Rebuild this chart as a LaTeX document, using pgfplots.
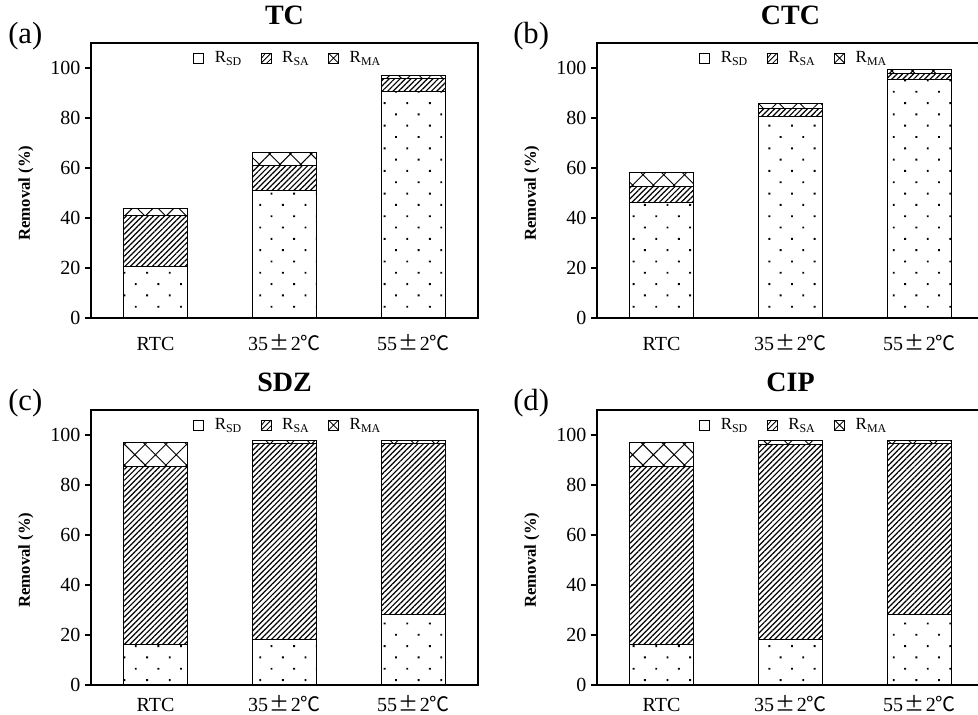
\documentclass[border=0pt]{standalone}
\usepackage{fontspec}
\setmainfont{Liberation Serif}
\newfontfamily\cjk{Noto Sans CJK SC}
\usepackage{pgfplots}
\pgfplotsset{compat=1.18}
\usetikzlibrary{patterns.meta}

\pgfplotsset{
  panel/.style={
    width=290.25pt, height=206.25pt, scale only axis,
    anchor=south west,
    ybar stacked, bar width=0.5,
    xmin=-0.5, xmax=2.5, ymin=0, ymax=110,
    xtick={0,1,2},
    xticklabels={RTC,35{\cjk\kern1pt±\kern1pt}2{\cjk ℃},55{\cjk\kern1pt±\kern1pt}2{\cjk ℃}},
    x tick style={draw=none},
    ytick={0,20,40,60,80,100}, ytick pos=left, tick align=outside, major tick length=4.5pt,
    y tick style={line width=0.8pt, black},
    axis line style={line width=0.9pt},
    tick label style={font=\fontsize{15}{18}\selectfont},
    /pgf/number format/assume math mode=true,
    xticklabel style={anchor=base, inner sep=0pt, yshift=-20.25pt},
    ylabel={\textbf{Removal (\%)}},
    ylabel style={at={(axis description cs:-0.168,0.4545)}, anchor=center, font=\fontsize{12.5}{14}\selectfont},
    title style={at={(axis description cs:0.5,1)}, anchor=base, yshift=7.5pt, font=\bfseries\fontsize{21}{24}\selectfont},
    legend style={draw=none, fill=none, at={(0.51,0.945)}, anchor=center, legend columns=3,
      font=\fontsize{12.75}{15}\selectfont,
      /tikz/every odd column/.append style={column sep=6pt},
      /tikz/every even column/.append style={column sep=12pt}},
    legend cell align=left,
  },
  bottom/.style={xticklabel style={yshift=5pt}},
  sd/.style={draw=black, line width=0.75pt, pattern color=black, pattern={Dots[angle=45,distance=12pt,radius=1pt]},
    legend image code/.code={\draw[black, line width=0.7pt, fill=white] (0pt,-3.75pt) rectangle (7.5pt,3.75pt);}},
  sa/.style={draw=black, line width=0.75pt, pattern color=black, pattern={Lines[angle=45,distance=2.9pt,line width=0.9pt]},
    legend image code/.code={\draw[black, line width=0.7pt, fill=white] (0pt,-3.75pt) rectangle (7.5pt,3.75pt);
      \draw[black, line width=0.6pt] (0pt,-3.75pt) -- (7.5pt,3.75pt) (0pt,-0.5pt) -- (3.25pt,3.75pt) (4.25pt,-3.75pt) -- (7.5pt,-0.5pt);}},
  ma/.style={draw=black, line width=0.75pt, pattern color=black, pattern={Hatch[angle=45,distance=11pt,line width=0.7pt]},
    legend image code/.code={\draw[black, line width=0.7pt, fill=white] (0pt,-3.75pt) rectangle (7.5pt,3.75pt);
      \draw[black, line width=0.55pt] (0pt,-3.75pt) -- (7.5pt,3.75pt) (0pt,3.75pt) -- (7.5pt,-3.75pt);}},
}

\begin{document}
\begin{tikzpicture}
\useasboundingbox (0,0) rectangle (733.5pt,535.5pt);

% (a) TC
\begin{axis}[panel, at={(68.25pt,297pt)}, title={TC}]
\addplot[sd] coordinates {(0,20.4) (1,51.1) (2,90.5)};
\addplot[sa] coordinates {(0,20.5) (1,9.8) (2,5.1)};
\addplot[ma] coordinates {(0,2.7) (1,5.4) (2,1.3)};
\legend{R\textsubscript{SD},R\textsubscript{SA},R\textsubscript{MA}}
\end{axis}

% (b) CTC
\begin{axis}[panel, at={(447.75pt,297pt)}, title={CTC}]
\addplot[sd] coordinates {(0,46.0) (1,80.5) (2,95.2)};
\addplot[sa] coordinates {(0,6.7) (1,3.4) (2,2.7)};
\addplot[ma] coordinates {(0,5.3) (1,2.0) (2,1.3)};
\legend{R\textsubscript{SD},R\textsubscript{SA},R\textsubscript{MA}}
\end{axis}

% (c) SDZ
\begin{axis}[panel, bottom, at={(68.25pt,21.75pt)}, title={SDZ}]
\addplot[sd] coordinates {(0,16.0) (1,18.0) (2,28.3)};
\addplot[sa] coordinates {(0,71.3) (1,78.4) (2,68.1)};
\addplot[ma] coordinates {(0,9.6) (1,1.2) (2,1.2)};
\legend{R\textsubscript{SD},R\textsubscript{SA},R\textsubscript{MA}}
\end{axis}

% (d) CIP
\begin{axis}[panel, bottom, at={(447.75pt,21.75pt)}, title={CIP}]
\addplot[sd] coordinates {(0,16.0) (1,18.0) (2,28.3)};
\addplot[sa] coordinates {(0,71.3) (1,78.0) (2,68.1)};
\addplot[ma] coordinates {(0,9.6) (1,1.7) (2,1.3)};
\legend{R\textsubscript{SD},R\textsubscript{SA},R\textsubscript{MA}}
\end{axis}

\node[anchor=base west, font=\fontsize{23}{27}\selectfont, inner sep=0pt] at (6pt,502.5pt) {(a)};
\node[anchor=base west, font=\fontsize{23}{27}\selectfont, inner sep=0pt] at (384.75pt,502.5pt) {(b)};
\node[anchor=base west, font=\fontsize{23}{27}\selectfont, inner sep=0pt] at (6pt,227.25pt) {(c)};
\node[anchor=base west, font=\fontsize{23}{27}\selectfont, inner sep=0pt] at (384.75pt,227.25pt) {(d)};
\end{tikzpicture}
\end{document}
